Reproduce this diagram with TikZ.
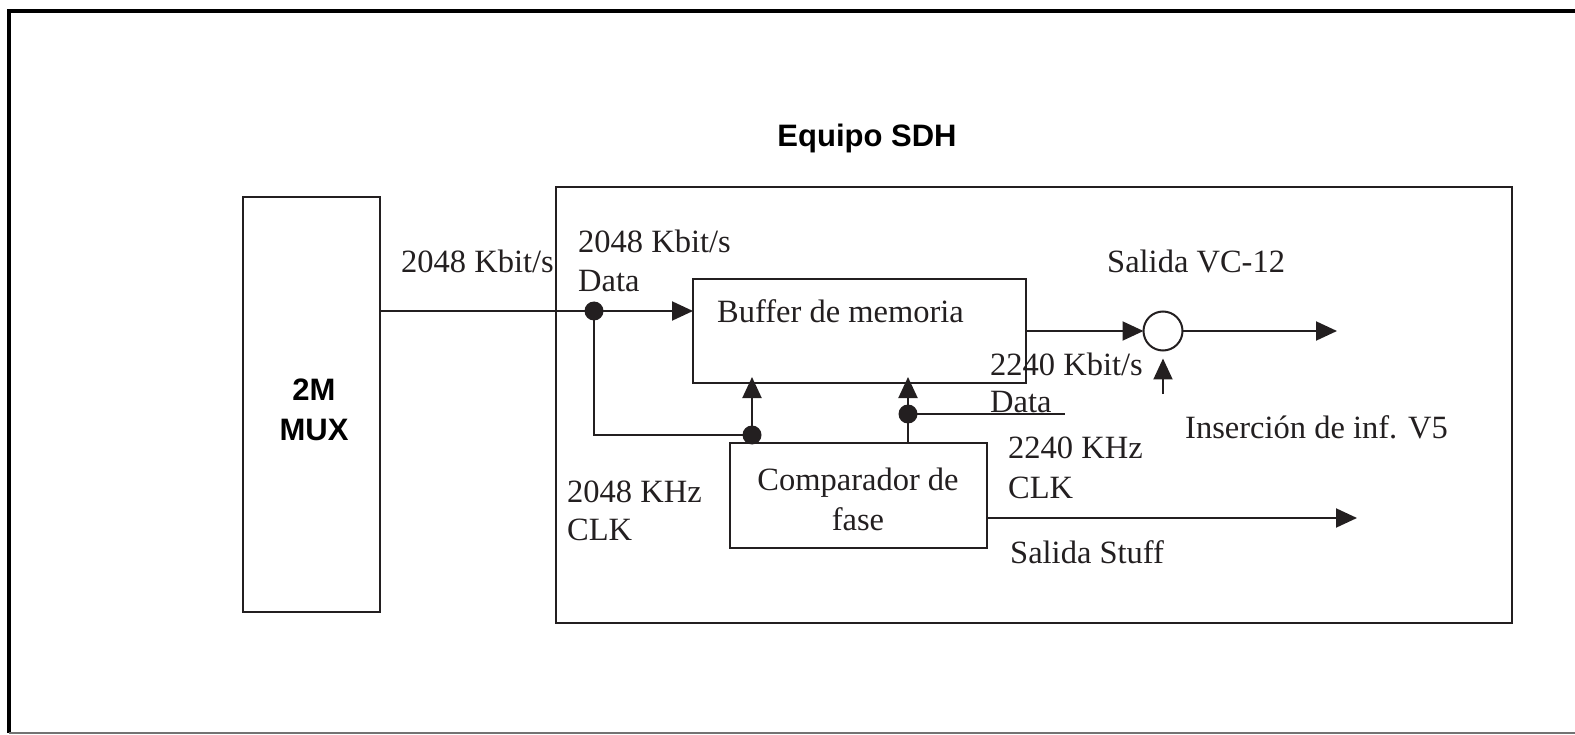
\documentclass[tikz,border=0pt]{standalone}
\usepackage{fontspec}
\setmainfont{Liberation Serif}
\newfontfamily\arialfont{Liberation Sans}
\usetikzlibrary{arrows.meta}
\definecolor{ink}{RGB}{35,31,32}
\tikzset{
  boxnode/.style={draw=ink, line width=2pt, inner sep=0pt, outer sep=0pt},
  wire/.style={draw=ink, line width=2pt},
  arrowwire/.style={wire, -{Triangle[length=21pt,width=19pt]}},
  junction/.style={circle, fill=ink, inner sep=0pt, minimum size=19pt},
  txt/.style={text=ink, inner sep=0pt, anchor=base west, font=\fontsize{32.5}{40}\selectfont},
  ctxt/.style={text=ink, inner sep=0pt, anchor=base, font=\fontsize{32.5}{40}\selectfont},
  stxt/.style={text=black, inner sep=0pt, anchor=base, font=\arialfont\bfseries\fontsize{31}{40}\selectfont}
}
\begin{document}
\begin{tikzpicture}[x=1pt,y=-1pt]
\useasboundingbox (0,0) rectangle (1575,735);
% outer frame
\coordinate (ftr) at (1575,11);
\coordinate (ftl) at (9,11);
\coordinate (fbl) at (9,733);
\coordinate (fbr) at (1575,733);
\draw[black, line width=4pt] (ftr) -- (ftl) -- (fbl);
\draw[black!55, line width=2pt] (fbl) -- (fbr);
% boxes
\node[boxnode, minimum width=137pt, minimum height=415pt] (mux) at (311.5,404.5) {};
\node[boxnode, minimum width=956pt, minimum height=436pt] (sdh) at (1034,405) {};
\node[boxnode, minimum width=333pt, minimum height=104pt] (buf) at (859.5,331) {};
\node[boxnode, minimum width=257pt, minimum height=105pt] (comp) at (858.5,495.5) {};
\node[draw=ink, line width=2pt, circle, inner sep=0pt, outer sep=0pt, minimum size=39pt] (sum) at (1163,331) {};
% junctions
\node[junction] (d1) at (594,311) {};
\node[junction] (d2) at (752,435) {};
\node[junction] (d3) at (908,414) {};
\coordinate (c1) at (594,435);
\coordinate (dataend) at (1065,414);
\coordinate (vout) at (1337,331);
\coordinate (v5in) at (1163,394);
\coordinate (stuffend) at (1357,518);
% connectors
\draw[wire] (mux.east |- d1) -- (d1.center);
\draw[arrowwire] (d1.center) -- (buf.west |- d1);
\draw[wire] (d1.center) -- (c1) -- (d2.center);
\draw[arrowwire] (d2.center) -- ([yshift=6pt]buf.south -| d2);
\draw[wire] (comp.north -| d3) -- (d3.center);
\draw[arrowwire] (d3.center) -- ([yshift=6pt]buf.south -| d3);
\draw[wire] (d3.center) -- (dataend);
\draw[arrowwire] (buf.east |- sum) -- (sum.west);
\draw[arrowwire] (sum.east) -- (vout);
\draw[arrowwire, shorten >=8pt] (v5in) -- (sum.south);
\draw[arrowwire] (comp.east |- stuffend) -- (stuffend);
% texts
\node[stxt] (title) at (867,147) {Equipo SDH};
\node[stxt] (muxa) at (314,400) {2M};
\node[stxt] (muxb) at (314,440) {MUX};
\node[txt] (t1) at (401,273) {2048 Kbit/s};
\node[txt] (t2) at (578,253) {2048 Kbit/s};
\node[txt] (t3) at (578,292) {Data};
\node[txt] (tbuf) at (717,323) {Buffer de memoria};
\node[txt] (t4) at (1107,273) {Salida VC-12};
\node[txt] (t5) at (990,375) {2240 Kbit/s};
\node[txt] (t6) at (990,413) {Data};
\node[txt] (t7) at (1185,438) {Inserción de inf. V5};
\node[txt] (t8) at (1008,458) {2240 KHz};
\node[txt] (t9) at (1008,498) {CLK};
\node[txt] (t10) at (567,502) {2048 KHz};
\node[txt] (t11) at (567,540) {CLK};
\node[ctxt] (tc1) at (858,490) {Comparador de};
\node[ctxt] (tc2) at (858,530) {fase};
\node[txt] (t12) at (1010,563) {Salida Stuff};
\end{tikzpicture}
\end{document}
